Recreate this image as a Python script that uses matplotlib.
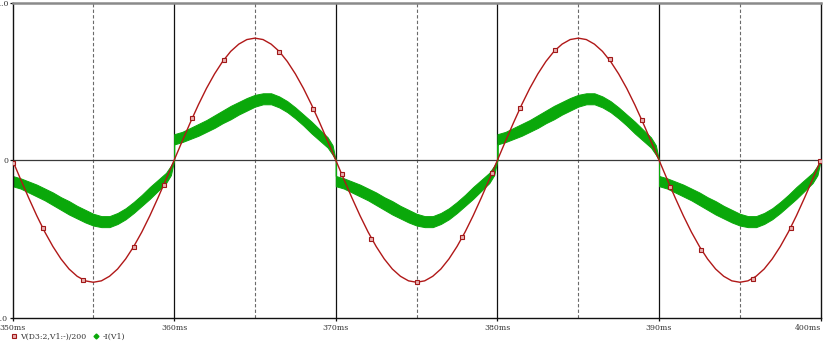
import numpy as np
import matplotlib
matplotlib.use("Agg")
import matplotlib.pyplot as plt
from matplotlib.lines import Line2D

# ---------------- data ----------------
t_start, half_period = 350.0, 10.0          # ms
n_halves = 5                                 # 350..400 ms
first_sign = -1                              # 350-360 ms is negative

# red trace V(D3:2,V1:-)/200, one half-cycle read at 0.5 ms steps
red_phase = [0.0, 0.5, 1.0, 1.5, 2.0, 2.5, 3.0, 3.5, 4.0, 4.5, 5.0,
             5.5, 6.0, 6.5, 7.0, 7.5, 8.0, 8.5, 9.0, 9.5, 10.0]
red_half = [0.0, 0.121, 0.239, 0.352, 0.456, 0.548, 0.627, 0.691, 0.737, 0.766, 0.775,
            0.766, 0.737, 0.691, 0.627, 0.548, 0.456, 0.352, 0.239, 0.121, 0.0]

# red marker samples (time ms, value)
red_marker_t = [350.06, 351.88, 354.35, 357.5, 359.35,
                361.1, 363.1, 366.5, 368.6,
                370.37, 372.2, 375.0, 377.8, 379.66,
                381.4, 383.56, 386.94, 388.92,
                390.7, 392.6, 395.8, 398.15, 399.98]
red_marker_v = [-0.02, -0.43, -0.76, -0.55, -0.155,
                0.27, 0.635, 0.69, 0.325,
                -0.09, -0.50, -0.775, -0.49, -0.08,
                0.33, 0.70, 0.64, 0.255,
                -0.17, -0.57, -0.755, -0.43, -0.005]

# green trace -I(V1): oscillating band, inner and outer envelope per half-cycle
green_phase = [0.0, 0.0, 0.5, 1.0, 1.5, 2.0, 2.5, 3.0, 3.5, 4.0, 4.5, 5.0,
               5.5, 6.0, 6.5, 7.0, 7.5, 8.0, 8.5, 9.0, 9.5, 9.8, 10.0]
green_inner = [0.0, 0.10, 0.115, 0.135, 0.155, 0.18, 0.205, 0.235, 0.26, 0.29, 0.315, 0.34,
               0.355, 0.355, 0.335, 0.305, 0.265, 0.22, 0.17, 0.125, 0.08, 0.035, 0.0]
green_outer = [0.0, 0.165, 0.18, 0.205, 0.23, 0.255, 0.285, 0.315, 0.345, 0.37, 0.395, 0.415,
               0.425, 0.425, 0.405, 0.375, 0.335, 0.29, 0.245, 0.195, 0.145, 0.095, 0.0]

x_ticks = [350, 360, 370, 380, 390, 400]
x_ticklabels = ["350ms", "360ms", "370ms", "380ms", "390ms", "400ms"]
x_minor = [355, 365, 375, 385, 395]
y_ticks = [-1.0, 0.0, 1.0]
y_ticklabels = ["-1.0", "0", "1.0"]
legend_labels = ["V(D3:2,V1:-)/200", "-I(V1)"]

# ---------------- assemble periodic series ----------------
red_t, red_v, g_t, g_lo, g_hi = [], [], [], [], []
for k in range(n_halves):
    s = first_sign * (-1) ** k
    t0 = t_start + k * half_period
    red_t += [t0 + p for p in red_phase]
    red_v += [s * v for v in red_half]
    g_t += [t0 + p for p in green_phase]
    g_lo += [s * v for v in green_inner]
    g_hi += [s * v for v in green_outer]

# ---------------- figure ----------------
W, H = 824, 346
fig = plt.figure(figsize=(W / 100, H / 100), dpi=100)
ax = fig.add_axes([12.5 / W, 1 - 317.7 / H, (820.7 - 12.5) / W, (317.7 - 2.7) / H])

ax.set_xlim(350, 400)
ax.set_ylim(-1.0, 1.0)

# grid
for xm in x_minor:
    ax.axvline(xm, color="#6a6a6a", lw=0.8, ls=(0, (3, 2)), zorder=1)
for xt in x_ticks[1:-1]:
    ax.axvline(xt, color="#111111", lw=0.9, zorder=1)
ax.axhline(0, color="#3a3a3a", lw=0.9, zorder=1)

# green band
ax.fill_between(g_t, g_lo, g_hi, color="#0aa80a", lw=0.7, edgecolor="#0aa80a", zorder=2)
# red trace
ax.plot(red_t, red_v, color="#b01818", lw=1.0, zorder=3)
ax.plot(red_marker_t, red_marker_v, ls="none", marker="s", ms=3.2,
        mfc="#e8b0b0", mec="#a01818", mew=0.8, zorder=4)

# spines
for side in ["left", "bottom", "right"]:
    ax.spines[side].set_color("#111111")
    ax.spines[side].set_linewidth(1.0)
ax.spines["top"].set_color("#8a8a8a")
ax.spines["top"].set_linewidth(1.8)

ax.set_xticks(x_ticks)
ax.set_xticklabels(x_ticklabels, fontsize=5.6, family="DejaVu Serif", color="#333333")
ax.set_yticks(y_ticks)
ax.set_yticklabels(y_ticklabels, fontsize=5.6, family="DejaVu Serif", color="#333333")
ax.tick_params(axis="x", length=2.5, width=0.9, pad=2, color="#111111")
ax.tick_params(axis="y", length=2.3, width=0.9, pad=0.8, color="#111111")
labs = ax.get_xticklabels()
labs[-1].set_horizontalalignment("right")

handles = [Line2D([], [], ls="none", marker="s", ms=3.2, mfc="#e8b0b0", mec="#a01818", mew=0.8),
           Line2D([], [], ls="none", marker="D", ms=2.5, mfc="#0aa80a", mec="#0aa80a")]
leg = fig.legend(handles, legend_labels, ncol=2, loc="center left",
                 bbox_to_anchor=(12 / W, 1 - 336.5 / H), frameon=False,
                 prop={"family": "DejaVu Serif", "size": 5.6},
                 handlelength=0.6, handletextpad=0.5, columnspacing=0.9,
                 borderpad=0, borderaxespad=0)
for txt in leg.get_texts():
    txt.set_color("#333333")

fig.savefig("out.png", dpi=100)
